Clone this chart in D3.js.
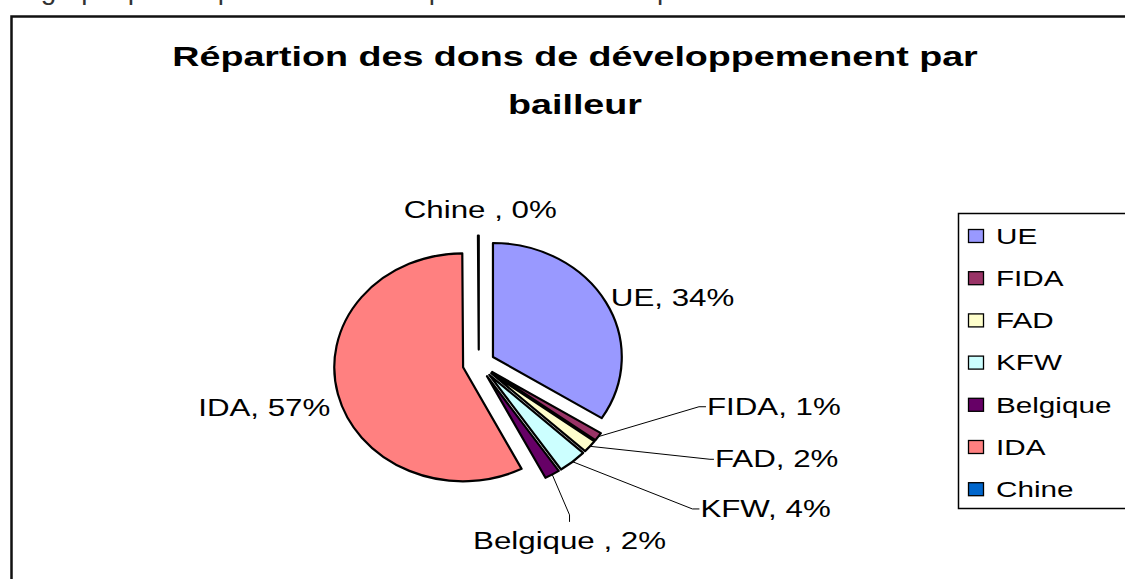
<!DOCTYPE html>
<html lang="fr">
<head>
<meta charset="UTF-8">
<title>Répartion des dons</title>
<style>
  body { margin: 0; background: #fff; }
  svg text { font-family: Arial, "Liberation Sans", sans-serif; white-space: pre; }
</style>
</head>
<body>
<div id="chart"></div>
<script src="https://d3js.org/d3.v7.min.js"></script>
<script>
// donors, shares (%) and Excel-2003 palette
const donors = ["UE", "FIDA", "FAD", "KFW", "Belgique ", "IDA", "Chine "];
const shares = [34.0, 1.2, 1.8, 3.6, 1.9, 57.4, 0.1];
const colors = ["#9999FF", "#993366", "#FFFFCC", "#CCFFFF", "#660066", "#FF8080", "#0066CC"];
const titleLines = ["Répartion des dons de développemenent par", "bailleur"];

const W = 1125, H = 579;
const SX = 1.36;            // the picture is stretched sideways, text follows it
const cx = 478.8, cy = 363.9, R = 114, PX = 1.13, EXPLODE = 14.3;

// where Excel put each data label (angle in degrees from 12 o'clock, radius in R)
const labelSpot = {
  "UE": { a: 60.4, r: 1.17, anchor: "start", dy: "0.35em" },
  "FIDA": { a: 102.4, r: 1.75, anchor: "start", dy: "0.35em", tail: [7, 0] },
  "FAD": { a: 115, r: 1.98, anchor: "start", dy: "0.35em", tail: [4, 0] },
  "KFW": { a: 127.5, r: 2.09, anchor: "start", dy: "0.35em", tail: [7, 0] },
  "Belgique ": { a: 152, r: 1.5, anchor: "middle", dy: "1.2em", tail: [0, 7] },
  "IDA": { a: 251.5, r: 1.216, anchor: "end", dy: "0.35em" },
  "Chine ": { a: 0.5, r: 1.28, anchor: "middle", dy: "0em" }
};

const data = donors.map((d, i) => ({ name: d, share: shares[i], color: colors[i] }));

const svg = d3.select("#chart").append("svg")
  .attr("width", W)
  .attr("height", H);

svg.append("rect").attr("width", W).attr("height", H).attr("fill", "#fff");

const stretch = (sel, x, y) => sel.attr("transform", `translate(${x},${y}) scale(${SX},1)`);

// cut-off line of the surrounding document, only its descenders are visible
svg.append("text")
  .attr("x", 2).attr("y", -1)
  .attr("font-size", 28)
  .attr("fill", "#333")
  .attr("textLength", 793)
  .attr("lengthAdjust", "spacingAndGlyphs")
  .text("Le graphique ci-après montre la répartition des dons par bailleur");

// chart frame (runs off the picture on the right and bottom)
svg.append("rect")
  .attr("x", 11.5).attr("y", 16.5)
  .attr("width", 1300).attr("height", 800)
  .attr("fill", "none")
  .attr("stroke", "#111")
  .attr("stroke-width", 2.5);

// title
titleLines.forEach((t, i) => {
  svg.append("text")
    .call(stretch, 575, 66 + i * 48)
    .attr("text-anchor", "middle")
    .attr("font-size", 27.7)
    .attr("font-weight", "bold")
    .text(t);
});

// pie
const pie = d3.pie().sort(null).value(d => d.share);
const arcs = pie(data);
const arc = d3.arc().innerRadius(0).outerRadius(R);
const mid = d => (d.startAngle + d.endAngle) / 2;
const pt = (a, r) => [cx + Math.sin(a) * r * PX, cy - Math.cos(a) * r];
const off = a => [Math.sin(a) * EXPLODE, -Math.cos(a) * EXPLODE];

const pieG = svg.append("g")
  .attr("transform", `translate(${cx},${cy}) scale(${PX},1)`);

pieG.selectAll("path")
  .data(arcs)
  .join("path")
  .attr("transform", d => `translate(${off(mid(d))})`)
  .attr("d", arc)
  .attr("fill", d => d.data.color)
  .attr("stroke", "#000")
  .attr("stroke-width", 2.2)
  .attr("stroke-linejoin", "round")
  .attr("vector-effect", "non-scaling-stroke");

const fmt = d3.format(".0f");
const labelText = d => `${d.data.name}, ${fmt(d.data.share)}%`;

arcs.forEach(d => {
  const a = mid(d);
  const o = off(a);
  const spot = labelSpot[d.data.name];
  let p = pt(spot.a * Math.PI / 180, spot.r * R);
  if (spot.tail) {
    const start = pt(a, R);
    start[0] += o[0] * PX; start[1] += o[1];
    const tail = [p[0] + spot.tail[0], p[1] + spot.tail[1]];
    svg.append("path")
      .attr("d", d3.line()([start, p, tail]))
      .attr("fill", "none")
      .attr("stroke", "#000")
      .attr("stroke-width", 1);
    p = tail;
  }
  svg.append("text")
    .call(stretch, p[0] + (spot.anchor === "start" ? 1 : 0), p[1])
    .attr("text-anchor", spot.anchor)
    .attr("dy", spot.dy)
    .attr("font-size", 23)
    .text(labelText(d));
});

// legend
const legend = svg.append("g");
legend.append("rect")
  .attr("x", 958.5).attr("y", 213.5)
  .attr("width", 200).attr("height", 295)
  .attr("fill", "#fff")
  .attr("stroke", "#000")
  .attr("stroke-width", 1.5);

const item = legend.selectAll("g.item")
  .data(data)
  .join("g")
  .attr("class", "item");

item.append("rect")
  .attr("x", 968.5)
  .attr("y", (d, i) => 236 + i * 42.2 - 6.5)
  .attr("width", 15).attr("height", 13)
  .attr("fill", d => d.color)
  .attr("stroke", "#000")
  .attr("stroke-width", 1.3);

item.append("text")
  .each(function(d, i) { d3.select(this).call(stretch, 996, 236 + i * 42.2); })
  .attr("dy", "0.36em")
  .attr("font-size", 21.8)
  .text(d => d.name.trim());
</script>
</body>
</html>
